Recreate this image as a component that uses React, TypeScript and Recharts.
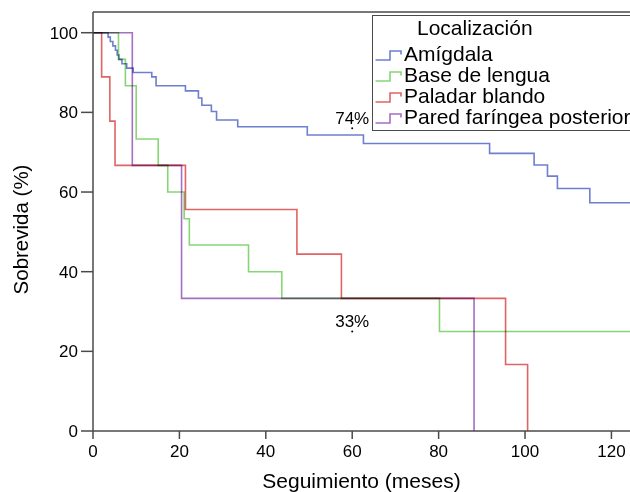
import React from 'react';
import { LineChart, Line, XAxis, YAxis, ReferenceLine, ReferenceDot } from 'recharts';

// Kaplan-Meier steps: months and survival (%)
const amigdalaMonths = [0, 3.5, 4.0, 4.6, 5.2, 5.6, 6.0, 6.7, 7.8, 9.3, 13.6, 14.6, 21.4, 24.4, 25.2, 27.4, 28.6, 33.5, 49.6, 62.6, 91.8, 102.1, 105.2, 107.5, 115.0, 126];
const amigdalaSurv = [100, 98.9, 97.8, 96.7, 95.6, 94.4, 93.3, 92.2, 91.1, 90.0, 88.9, 86.7, 85.4, 83.6, 81.8, 80.2, 78.1, 76.4, 74.3, 72.2, 69.7, 66.8, 64.0, 60.9, 57.3, 57.3];

const lenguaMonths = [0, 5.9, 7.5, 10.0, 15.1, 17.3, 21.1, 22.3, 36.0, 43.7, 80.2, 126];
const lenguaSurv = [100, 93.3, 86.7, 73.3, 66.7, 60.0, 53.3, 46.7, 40.0, 33.3, 25.0, 25.0];

const paladarMonths = [0, 2.0, 3.9, 5.1, 21.4, 47.2, 57.5, 95.5, 100.6];
const paladarSurv = [100, 88.9, 77.8, 66.7, 55.6, 44.4, 33.3, 16.7, 0];

const paredMonths = [0, 9.1, 20.5, 88.2];
const paredSurv = [100, 66.7, 33.3, 0];

const xTicks = [0, 20, 40, 60, 80, 100, 120];
const yTicks = [0, 20, 40, 60, 80, 100];

// survival labels at 60 months
const noteMonths = [60, 60];
const noteLevels = [76, 25];
const noteTexts = ['74%', '33%'];

const series = [
    { name: 'Amígdala', color: '#6f7fd0', months: amigdalaMonths, surv: amigdalaSurv },
    { name: 'Base de lengua', color: '#86d676', months: lenguaMonths, surv: lenguaSurv },
    { name: 'Paladar blando', color: '#e06464', months: paladarMonths, surv: paladarSurv },
    { name: 'Pared faríngea posterior', color: '#a46fc4', months: paredMonths, surv: paredSurv },
];

const toPoints = (months: number[], surv: number[]) => months.map((t, i) => ({ t, s: surv[i] }));

const FONT = '"Liberation Sans", Arial, Helvetica, sans-serif';
const AXIS = '#4a4a4a';
const X_MAX = 124.3;
const Y_MAX = 105.2;

export default function App() {
    return (
        <div style={{ position: 'absolute', left: 0, top: 0, width: 630, height: 492, overflow: 'hidden', background: '#fff', fontFamily: FONT }}>
            <style>{`.recharts-line-curve { mix-blend-mode: multiply; }`}</style>
            <LineChart width={630} height={492} margin={{ top: 12, right: 0, left: 0, bottom: 0 }}>
                <XAxis
                    dataKey="t"
                    type="number"
                    domain={[0, X_MAX]}
                    allowDataOverflow
                    ticks={xTicks}
                    height={61}
                    stroke={AXIS}
                    strokeWidth={1.5}
                    tickSize={8}
                    tickMargin={6}
                    tick={{ fontSize: 17, fill: '#000', fontFamily: FONT }}
                    label={{
                        content: ({ viewBox }: any) => (
                            <text x={viewBox.x + viewBox.width / 2} y={viewBox.y + 57} textAnchor="middle" fontSize={21} fontFamily={FONT} fill="#000">
                                Seguimiento (meses)
                            </text>
                        ),
                    }}
                />
                <YAxis
                    type="number"
                    domain={[0, Y_MAX]}
                    allowDataOverflow
                    ticks={yTicks}
                    width={93}
                    stroke={AXIS}
                    strokeWidth={1.5}
                    tickSize={12}
                    tickMargin={3}
                    tick={{ fontSize: 17, fill: '#000', fontFamily: FONT }}
                    label={{
                        content: ({ viewBox }: any) => {
                            const cx = 20;
                            const cy = viewBox.y + viewBox.height / 2 + 8;
                            return (
                                <text x={cx} y={cy} transform={`rotate(-90 ${cx} ${cy})`} textAnchor="middle" dominantBaseline="central" fontSize={20.5} fontFamily={FONT} fill="#000">
                                    Sobrevida (%)
                                </text>
                            );
                        },
                    }}
                />
                <ReferenceLine y={Y_MAX} stroke={AXIS} strokeWidth={1.5} ifOverflow="visible" />
                {series.map((s) => (
                    <Line
                        key={s.name}
                        name={s.name}
                        data={toPoints(s.months, s.surv)}
                        dataKey="s"
                        type="stepAfter"
                        stroke={s.color}
                        strokeWidth={1.6}
                        dot={false}
                        activeDot={false}
                        isAnimationActive={false}
                    />
                ))}
                {noteTexts.map((txt, i) => (
                    <ReferenceDot
                        key={txt}
                        x={noteMonths[i]}
                        y={noteLevels[i]}
                        r={1}
                        fill="#000"
                        stroke="none"
                        label={{ value: txt, position: 'top', offset: 3, fontSize: 17, fill: '#000', fontFamily: FONT }}
                    />
                ))}
            </LineChart>

            <div style={{ position: 'absolute', left: 372, top: 15, width: 290, height: 116, boxSizing: 'border-box', border: `1.5px solid ${AXIS}`, background: '#fff', fontSize: 21, lineHeight: '21px', color: '#000' }}>
                <div style={{ position: 'absolute', left: 44, top: 1, whiteSpace: 'nowrap' }}>Localización</div>
                <div style={{ position: 'absolute', left: 0, top: 27 }}>
                    {series.map((s) => (
                        <div key={s.name} style={{ display: 'flex', alignItems: 'flex-start', height: 21, whiteSpace: 'nowrap' }}>
                            <svg width={31} height={21} style={{ flex: 'none' }}>
                                <path d="M2.5 17 H17 V8 H28 V11.5" fill="none" stroke={s.color} strokeWidth={1.6} />
                            </svg>
                            <span>{s.name}</span>
                        </div>
                    ))}
                </div>
            </div>
        </div>
    );
}
